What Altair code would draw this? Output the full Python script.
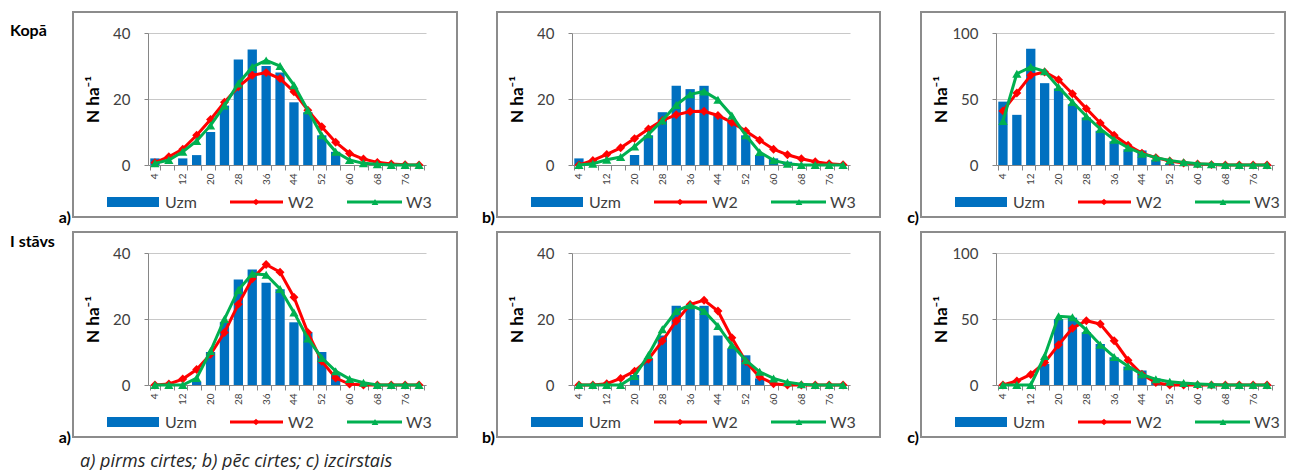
import altair as alt
import pandas as pd

# diameter classes (cm)
dbh = [4, 8, 12, 16, 20, 24, 28, 32, 36, 40, 44, 48, 52, 56, 60, 64, 68, 72, 76, 80]

# Kopā, a) pirms cirtes
kopa_a_uzm = [2, 0, 2, 3, 10, 18, 32, 35, 30, 28, 19, 16, 9, 4, 0, 0, 0, 0, 0, 0]
kopa_a_w2 = [0.7, 2.5, 4.8, 9, 13.8, 19, 23.7, 27.2, 28, 26.2, 22.2, 16.6, 11.6, 6.9, 3.5, 1.8, 0.8, 0.3, 0.1, 0]
kopa_a_w3 = [0.5, 1.5, 4, 7.3, 12, 18, 24.7, 29.7, 31.7, 30, 24.2, 16.6, 9, 4, 1.5, 0.5, 0.2, 0, 0, 0]

# Kopā, b) pēc cirtes
kopa_b_uzm = [2, 0, 0, 0, 3, 9, 16, 24, 23, 24, 15, 13, 9, 3, 2, 1, 0, 0, 0, 0]
kopa_b_w2 = [0, 1.4, 3.2, 5.2, 8, 10.9, 13.5, 15.2, 16.2, 16.3, 15, 12.9, 10.3, 7.5, 4.8, 3.1, 1.9, 1, 0.4, 0.1]
kopa_b_w3 = [0, 0.4, 1.6, 2.4, 5.6, 9.3, 13.5, 18.2, 21.4, 22.3, 19.8, 15, 9, 3.9, 1.4, 0.4, 0, 0, 0, 0]

# Kopā, c) izcirstais
kopa_c_uzm = [48, 38, 88, 62, 58, 46, 36, 26, 18, 12, 11, 4, 1, 0, 0, 0, 0, 0, 0, 0]
kopa_c_w2 = [41, 54.5, 68, 70.5, 64.6, 54, 42.7, 31.8, 22.5, 15, 9, 5.6, 3, 1.5, 0.8, 0.3, 0, 0, 0, 0]
kopa_c_w3 = [33.3, 69.2, 74.2, 71, 59, 47.7, 36.9, 27.3, 19.2, 13.1, 8.6, 5.6, 3.5, 2, 1, 0.5, 0, 0, 0, 0]

# I stāvs, a)
st_a_uzm = [0, 0, 0, 1, 10, 19, 32, 35, 31, 29, 19, 16, 10, 3, 0, 0, 0, 0, 0, 0]
st_a_w2 = [0, 0.3, 1.8, 4.7, 9.3, 15.9, 24.5, 32.2, 36.5, 34.2, 26.6, 15.9, 7.2, 2.1, 0.3, 0, 0, 0, 0, 0]
st_a_w3 = [0, 0, 0, 2.1, 10.3, 20, 28.8, 33.7, 33.4, 29.1, 22, 14.1, 8.2, 4.2, 1.8, 0.7, 0, 0, 0, 0]

# I stāvs, b)
st_b_uzm = [0, 0, 0, 0, 3, 8, 15, 24, 24, 24, 15, 11, 9, 2, 0, 0, 0, 0, 0, 0]
st_b_w2 = [0, 0, 0.4, 2, 4.2, 7.8, 13.3, 19.4, 24.4, 25.7, 22.4, 14.3, 7.1, 2.4, 0.4, 0, 0, 0, 0, 0]
st_b_w3 = [0, 0, 0, 0, 2.7, 9.1, 16.9, 22.4, 24.2, 22.4, 17.9, 12.1, 7.5, 4, 2, 0.8, 0.2, 0, 0, 0]

# I stāvs, c)
st_c_uzm = [0, 0, 0, 16, 50, 51, 40, 31, 21, 14, 11, 5, 2, 0, 0, 0, 0, 0, 0, 0]
st_c_w2 = [0, 3, 8, 17, 30.5, 43, 48.7, 46.2, 33.5, 18.8, 8.1, 1.8, 0, 0, 0, 0, 0, 0, 0, 0]
st_c_w3 = [0, 0, 0, 22, 52, 51.3, 41.6, 30.5, 21.3, 14.2, 8.1, 4.3, 2.5, 1.5, 0.8, 0.3, 0, 0, 0, 0]

series_names = ["Uzm", "W2", "W3"]
y_title = "N ha⁻¹"
footnote_text = "a) pirms cirtes; b) pēc cirtes; c) izcirstais"

BLUE = "#0070C0"
RED = "#FF0000"
GREEN = "#00B050"
GRAY_TXT = "#404040"
AXIS_GRAY = "#868686"
FONT = "Lato"
W, H = 278, 132


def deco():
    return alt.Chart(pd.DataFrame({"k": [0]}))


def panel(uzm, w2, w3, ymax, yvals, frame_right, letter,
          row_label=None, row_label_y=0, footnote=False, anchor=False):
    bars_df = pd.DataFrame({"d": dbh, "v": uzm})
    w2_df = pd.DataFrame({"d": dbh, "v": w2})
    w3_df = pd.DataFrame({"d": dbh, "v": w3})

    x = alt.X(
        "d:O", title=None,
        scale=alt.Scale(paddingInner=0.33, paddingOuter=0.165),
        axis=alt.Axis(
            labelAngle=270, labelExpr="datum.value % 8 == 4 ? datum.label : ''",
            labelFontSize=10, labelColor=GRAY_TXT, labelFont=FONT, labelPadding=3,
            labelOverlap=False, tickSize=5, tickBand="extent", tickColor=AXIS_GRAY,
            domainColor=AXIS_GRAY, grid=False,
        ),
    )
    y = alt.Y(
        "v:Q", title=y_title,
        scale=alt.Scale(domain=[0, ymax], nice=False),
        axis=alt.Axis(
            values=yvals, grid=True, gridColor="#C8C8C8", gridWidth=1,
            tickSize=4, tickColor=AXIS_GRAY, domainColor=AXIS_GRAY,
            labelFontSize=15, labelColor=GRAY_TXT, labelFont=FONT, labelPadding=14,
            titleFont=FONT, titleFontSize=17, titleFontWeight="bold", titleColor="black",
            titleAngle=270, titleX=-55, titleY=H / 2, titleAlign="center",
            titleBaseline="middle",
        ),
    )

    layers = []
    if anchor:
        layers.append(deco().mark_rect(fill="white").encode(
            x=alt.value(-148), x2=alt.value(-147), y=alt.value(-33), y2=alt.value(-32)))
    layers.append(deco().mark_rect(fill="transparent", stroke="#8C8C8C", strokeWidth=2).encode(
        x=alt.value(-75), x2=alt.value(frame_right), y=alt.value(-21), y2=alt.value(184)))

    layers.append(alt.Chart(bars_df).mark_bar(color=BLUE).encode(x=x, y=y))
    layers.append(alt.Chart(w2_df).mark_line(color=RED, strokeWidth=3).encode(x=x, y=y))
    layers.append(alt.Chart(w2_df).mark_point(shape="diamond", filled=True, size=80,
                                              color=RED, opacity=1).encode(x=x, y=y))
    layers.append(alt.Chart(w3_df).mark_line(color=GREEN, strokeWidth=3).encode(x=x, y=y))
    layers.append(alt.Chart(w3_df).mark_point(shape="triangle-up", filled=True, size=85,
                                              color=GREEN, opacity=1).encode(x=x, y=y))

    # legend
    ly = 169
    layers.append(deco().mark_rect(fill=BLUE).encode(
        x=alt.value(-41), x2=alt.value(11), y=alt.value(ly - 5), y2=alt.value(ly + 5)))
    layers.append(deco().mark_rule(color=RED, strokeWidth=3).encode(
        x=alt.value(82), x2=alt.value(135), y=alt.value(ly)))
    layers.append(deco().mark_point(shape="diamond", filled=True, size=45, color=RED, opacity=1).encode(
        x=alt.value(108), y=alt.value(ly)))
    layers.append(deco().mark_rule(color=GREEN, strokeWidth=3).encode(
        x=alt.value(199), x2=alt.value(254), y=alt.value(ly)))
    layers.append(deco().mark_point(shape="triangle-up", filled=True, size=45, color=GREEN, opacity=1).encode(
        x=alt.value(227), y=alt.value(ly)))
    for name, lx in zip(series_names, [17, 140, 258]):
        layers.append(deco().mark_text(text=name, align="left", baseline="middle", fontSize=16,
                                       font=FONT, color=GRAY_TXT).encode(
            x=alt.value(lx), y=alt.value(ly + 1)))

    layers.append(deco().mark_text(text=letter, align="right", baseline="alphabetic", fontSize=16,
                                   fontWeight="bold", font=FONT, color="black").encode(
        x=alt.value(-77), y=alt.value(190)))
    if row_label:
        layers.append(deco().mark_text(text=row_label, align="left", baseline="alphabetic",
                                       fontSize=16, fontWeight="bold", font=FONT, color="black").encode(
            x=alt.value(-138), y=alt.value(row_label_y)))
    if footnote:
        layers.append(deco().mark_text(text=footnote_text, align="left", baseline="alphabetic",
                                       fontSize=18, fontStyle="italic", font="Open Sans",
                                       color="#262626").encode(
            x=alt.value(-68), y=alt.value(214)))

    return alt.layer(*layers).properties(width=W, height=H)


p1 = panel(kopa_a_uzm, kopa_a_w2, kopa_a_w3, 40, [0, 20, 40], 309, "a)",
           row_label="Kopā", row_label_y=3, anchor=True)
p2 = panel(kopa_b_uzm, kopa_b_w2, kopa_b_w3, 40, [0, 20, 40], 308, "b)")
p3 = panel(kopa_c_uzm, kopa_c_w2, kopa_c_w3, 100, [0, 50, 100], 289, "c)")
p4 = panel(st_a_uzm, st_a_w2, st_a_w3, 40, [0, 20, 40], 309, "a)",
           row_label="I stāvs", row_label_y=-6, footnote=True)
p5 = panel(st_b_uzm, st_b_w2, st_b_w3, 40, [0, 20, 40], 308, "b)")
p6 = panel(st_c_uzm, st_c_w2, st_c_w3, 100, [0, 50, 100], 289, "c)")

chart = alt.concat(
    p1, p2, p3, p4, p5, p6, columns=3,
    spacing={"row": 88, "column": 146}, bounds="flush",
).properties(padding=0).configure_view(strokeWidth=0)

chart.save("out.html", embed_options={"renderer": "svg", "actions": False})
